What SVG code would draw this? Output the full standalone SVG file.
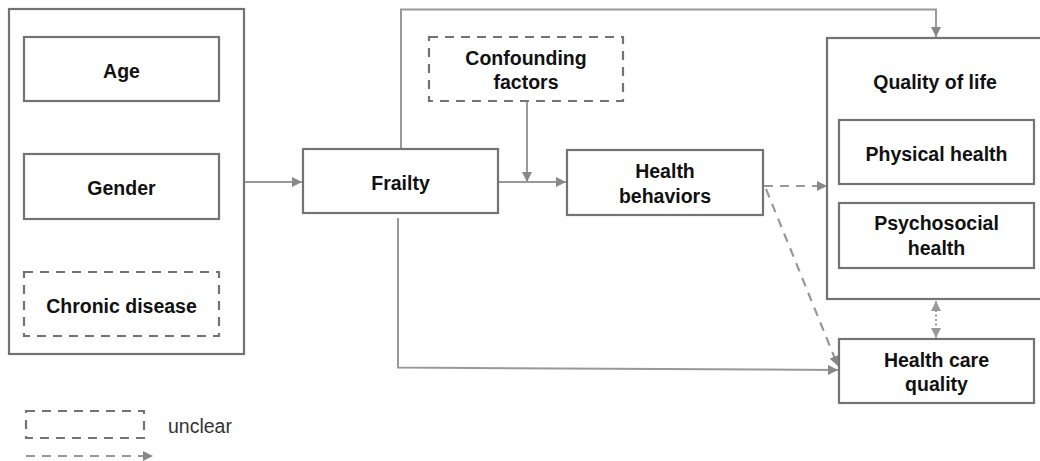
<svg xmlns="http://www.w3.org/2000/svg" width="1040" height="461" viewBox="0 0 1040 461">
<style>
.box{fill:#fff;stroke:#737373;stroke-width:2.2}
.dbox{fill:#fff;stroke:#737373;stroke-width:2.2;stroke-dasharray:9,7}
.t{font-family:"Liberation Sans",Arial,sans-serif;font-weight:bold;font-size:19.5px;fill:#111;text-anchor:middle}
.lg{font-family:"Liberation Sans",Arial,sans-serif;font-size:19.5px;fill:#333}
.c{fill:none;stroke:#999;stroke-width:2}
.cd{fill:none;stroke:#999;stroke-width:2.2;stroke-dasharray:9,7}
.cdot{fill:none;stroke:#999;stroke-width:2;stroke-dasharray:2,2.5}
</style>
<defs>
<marker id="ah" viewBox="0 0 10 10" refX="10" refY="5" markerWidth="10" markerHeight="10" markerUnits="userSpaceOnUse" orient="auto">
<path d="M0,0 L10,5 L0,10 z" fill="#888"/>
</marker>
<marker id="ahs" viewBox="0 0 10 10" refX="10" refY="5" markerWidth="10" markerHeight="10" markerUnits="userSpaceOnUse" orient="auto-start-reverse">
<path d="M0,0 L10,5 L0,10 z" fill="#999"/>
</marker>
</defs>
<g id="connectors">
<line class="c" x1="245" y1="182" x2="302" y2="182" marker-end="url(#ah)"/>
<path class="c" d="M401,149 V9.5 H936 V37" marker-end="url(#ah)"/>
<line class="c" x1="527" y1="102" x2="527" y2="182" marker-end="url(#ah)"/>
<line class="c" x1="498" y1="182" x2="566" y2="182" marker-end="url(#ah)"/>
<path class="c" d="M398,218 V367.5 L838,370" marker-end="url(#ah)"/>
<line class="cd" x1="764" y1="186" x2="827" y2="186" marker-end="url(#ah)"/>
<line class="cd" x1="766" y1="189" x2="838" y2="366" marker-end="url(#ah)"/>
<line class="cdot" x1="936" y1="301" x2="936" y2="338" marker-start="url(#ahs)" marker-end="url(#ahs)"/>
</g>
<g id="demographics">
<rect class="box" x="9" y="9" width="235" height="345"/>
</g>
<g id="age">
<rect class="box" x="24" y="37" width="195" height="64"/>
<text class="t" x="121.5" y="78">Age</text>
</g>
<g id="gender">
<rect class="box" x="24" y="154" width="195" height="65"/>
<text class="t" x="121.5" y="195">Gender</text>
</g>
<g id="chronic-disease">
<rect class="dbox" x="24" y="272" width="195" height="64"/>
<text class="t" x="121.5" y="313">Chronic disease</text>
</g>
<g id="frailty">
<rect class="box" x="303" y="149" width="195" height="64"/>
<text class="t" x="400.5" y="190">Frailty</text>
</g>
<g id="confounding">
<rect class="dbox" x="429" y="37" width="194" height="64"/>
<text class="t" x="526" y="65">Confounding</text>
<text class="t" x="526" y="89">factors</text>
</g>
<g id="health-behaviors">
<rect class="box" x="567" y="150" width="196" height="65"/>
<text class="t" x="665" y="178">Health</text>
<text class="t" x="665" y="203">behaviors</text>
</g>
<g id="quality-of-life">
<rect class="box" x="827" y="38" width="220" height="261"/>
<text class="t" x="935" y="89">Quality of life</text>
</g>
<g id="physical-health">
<rect class="box" x="839" y="120" width="195" height="64"/>
<text class="t" x="936.5" y="161">Physical health</text>
</g>
<g id="psychosocial-health">
<rect class="box" x="839" y="203" width="195" height="65"/>
<text class="t" x="936.5" y="230">Psychosocial</text>
<text class="t" x="936.5" y="255">health</text>
</g>
<g id="health-care-quality">
<rect class="box" x="839" y="339" width="195" height="64"/>
<text class="t" x="936.5" y="367">Health care</text>
<text class="t" x="936.5" y="391">quality</text>
</g>
<g id="legend">
<rect class="dbox" x="26" y="411" width="118" height="27"/>
<text class="lg" x="168" y="433">unclear</text>
<line class="cd" x1="26" y1="456" x2="153" y2="456" marker-end="url(#ah)"/>
</g>
</svg>
